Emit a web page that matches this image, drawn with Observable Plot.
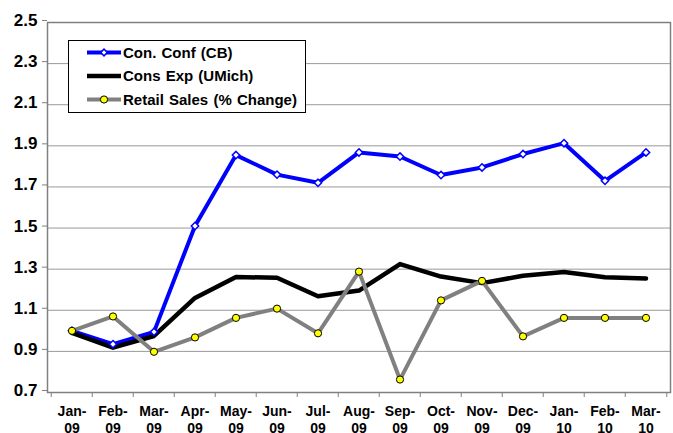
<!DOCTYPE html>
<html><head><meta charset="utf-8">
<script src="https://cdn.jsdelivr.net/npm/d3@7"></script>
<script src="https://cdn.jsdelivr.net/npm/@observablehq/plot@0.6"></script>
<style>
body{margin:0;background:#fff;}
#wrap{position:relative;width:673px;height:433px;font-family:"Liberation Sans",Arial,sans-serif;}
#legend{position:absolute;left:68px;top:40px;width:236px;height:71px;border:1px solid #000;background:#fff;}
</style></head><body><div id="wrap"><div id="legend"></div></div>
<script>
const months = ["Jan-09","Feb-09","Mar-09","Apr-09","May-09","Jun-09","Jul-09","Aug-09","Sep-09","Oct-09","Nov-09","Dec-09","Jan-10","Feb-10","Mar-10"];
const conConf = [1.0, 0.935, 0.995, 1.51, 1.855, 1.76, 1.72, 1.868, 1.848, 1.758, 1.795, 1.86, 1.913, 1.73, 1.868];
const consExp = [0.99, 0.918, 0.975, 1.16, 1.262, 1.258, 1.168, 1.196, 1.325, 1.264, 1.232, 1.268, 1.286, 1.261, 1.255];
const retail = [1.0, 1.07, 0.898, 0.968, 1.063, 1.108, 0.988, 1.288, 0.763, 1.148, 1.243, 0.973, 1.063, 1.063, 1.063];
const yTicks = [0.7, 0.9, 1.1, 1.3, 1.5, 1.7, 1.9, 2.1, 2.3, 2.5];
const seriesNames = ["Con. Conf (CB)", "Cons Exp (UMich)", "Retail Sales (% Change)"];

const rows = arr => months.map((m, i) => ({month: m, v: arr[i]}));
const conRows = rows(conConf), expRows = rows(consExp), retRows = rows(retail);

const W = 673, H = 433, ML = 47, MR = 3;
const step = (W - ML - MR) / months.length;

const chart = Plot.plot({
  width: W, height: H, marginLeft: ML, marginRight: MR, marginTop: 22, marginBottom: 41,
  style: {fontFamily: "'Liberation Sans', Arial, sans-serif", fontWeight: "bold", color: "#000", background: "#fff", overflow: "visible"},
  x: {type: "band", domain: months, padding: 0, axis: null, label: null},
  y: {domain: [0.7, 2.5], axis: null, label: null},
  marks: [
    Plot.gridY(yTicks, {stroke: "#999", strokeOpacity: 1, strokeWidth: 1}),
    Plot.frame({stroke: "#808080", strokeWidth: 1.5}),
    Plot.axisY(yTicks, {label: null, tickSize: 5, tickPadding: 5, tickFormat: d3.format(".1f"), fontSize: 17, stroke: "#808080", fill: "#000", dy: -2}),
    Plot.axisX({label: null, tickSize: 0, tickPadding: 12, fontSize: 14, lineHeight: 1.2, fill: "#000", tickFormat: d => d.replace("-", "-\n")}),
    Plot.axisX({label: null, tickSize: 5, tickPadding: 0, dx: -step / 2, stroke: "#808080", tickFormat: () => ""}),
    Plot.axisX([months[months.length - 1]], {label: null, tickSize: 5, tickPadding: 0, dx: step / 2, stroke: "#808080", tickFormat: () => ""}),
    Plot.line(conRows, {x: "month", y: "v", stroke: "#0000ff", strokeWidth: 4}),
    Plot.line(expRows, {x: "month", y: "v", stroke: "#000", strokeWidth: 4.5}),
    Plot.line(retRows, {x: "month", y: "v", stroke: "#808080", strokeWidth: 4}),
    Plot.dot(conRows, {x: "month", y: "v", symbol: "diamond2", r: 3.3, fill: "#fff", stroke: "#0000ff", strokeWidth: 1.5}),
    Plot.dot(retRows, {x: "month", y: "v", r: 3.6, fill: "#ffff00", stroke: "#000", strokeWidth: 1})
  ]
});
const wrap = document.getElementById("wrap");
wrap.insertBefore(chart, wrap.firstChild);

// legend
const leg = d3.select("#legend").append("svg").attr("width", 236).attr("height", 71)
  .style("font-family", "'Liberation Sans', Arial, sans-serif").style("font-weight", "bold").style("font-size", "15px");
const legStyles = [
  {stroke: "#0000ff", w: 4, marker: "diamond"},
  {stroke: "#000", w: 4.5, marker: null},
  {stroke: "#808080", w: 4, marker: "circle"}
];
const rowY = [11.5, 35, 58.5];
seriesNames.forEach((name, i) => {
  const s = legStyles[i], y = rowY[i];
  leg.append("line").attr("x1", 18).attr("x2", 52).attr("y1", y).attr("y2", y).attr("stroke", s.stroke).attr("stroke-width", s.w);
  if (s.marker === "diamond") {
    leg.append("path").attr("d", d3.symbol(d3.symbolSquare, 22)()).attr("transform", `translate(35,${y}) rotate(45)`)
      .attr("fill", "#fff").attr("stroke", "#0000ff").attr("stroke-width", 1.5);
  } else if (s.marker === "circle") {
    leg.append("circle").attr("cx", 35).attr("cy", y).attr("r", 3.6).attr("fill", "#ffff00").attr("stroke", "#000");
  }
  leg.append("text").attr("x", 54).attr("y", y).attr("dy", "0.36em").style("word-spacing", "1px").text(name);
});
</script></body></html>
